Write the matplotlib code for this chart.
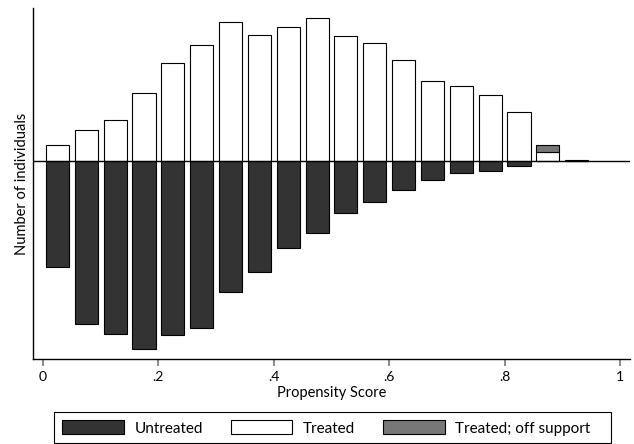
import numpy as np
import matplotlib.pyplot as plt
from matplotlib.patches import Rectangle

plt.rcParams['font.family'] = ['Lato', 'DejaVu Sans']

# propensity score bins (centres) and counts
bins = [0.025, 0.075, 0.125, 0.175, 0.225, 0.275, 0.325, 0.375, 0.425, 0.475,
        0.525, 0.575, 0.625, 0.675, 0.725, 0.775, 0.825, 0.875, 0.925]
treated = [16.7, 31.3, 41.6, 68, 98, 116, 139, 126, 134.6, 143,
           125, 118, 101.6, 80.6, 75.3, 66.3, 49.6, 9, 1]
untreated = [106, 163, 173, 188, 174, 167, 131, 111, 87, 72,
             52, 41, 29, 19, 12, 10, 5, 0, 0]
off_support = [0, 0, 0, 0, 0, 0, 0, 0, 0, 0,
               0, 0, 0, 0, 0, 0, 0, 7.6, 0]
ticks = [0, 0.2, 0.4, 0.6, 0.8, 1]
tick_labels = ['0', '.2', '.4', '.6', '.8', '1']

fig = plt.figure(figsize=(6.34, 4.44), dpi=100)
ax = fig.add_axes([33/634, 85/444, 597/634, 351/444])

w = 0.04
lw = 0.8
unt = ax.bar(bins, -np.array(untreated), width=w, color='#333333',
             edgecolor='black', linewidth=lw, label='Untreated')
tr = ax.bar(bins, treated, width=w, color='white',
            edgecolor='black', linewidth=lw, label='Treated')
off_mask = np.array(off_support) > 0
off = ax.bar(np.array(bins)[off_mask], np.array(off_support)[off_mask], width=w,
             bottom=np.array(treated)[off_mask], color='#777777',
             edgecolor='black', linewidth=lw, label='Treated; off support')

ax.axhline(0, color='black', linewidth=1)
ax.set_xlim(-0.0173, 1.0173)
ax.set_ylim(-197.7, 153.3)
ax.set_xticks(ticks)
ax.set_xticklabels(tick_labels)
ax.set_yticks([])
ax.tick_params(axis='x', colors='#777777', length=5, width=1.2, labelsize=10)
for lab in ax.get_xticklabels():
    lab.set_color('black')
ax.spines['top'].set_visible(False)
ax.spines['right'].set_visible(False)
ax.spines['left'].set_linewidth(1)
ax.spines['bottom'].set_linewidth(1)
ax.set_xlabel('Propensity Score', fontsize=10.5, labelpad=2)
ax.set_ylabel('Number of individuals', fontsize=10.5, labelpad=3)

# legend box drawn separately (Stata-style, wider on the right)
fig.patches.append(Rectangle((54/634, 1/444), 557/634, 31/444,
                             transform=fig.transFigure, fill=False,
                             edgecolor='black', linewidth=0.8))
leg = fig.legend(handles=[unt, tr, off], loc='center left', ncol=3,
                 bbox_to_anchor=(62/634, 1 - 427.9/444),
                 fontsize=11, handlelength=4.03, handleheight=1.05,
                 borderpad=0, borderaxespad=0, frameon=False,
                 columnspacing=1.83, handletextpad=0.7)

fig.savefig('out.png', dpi=100)
